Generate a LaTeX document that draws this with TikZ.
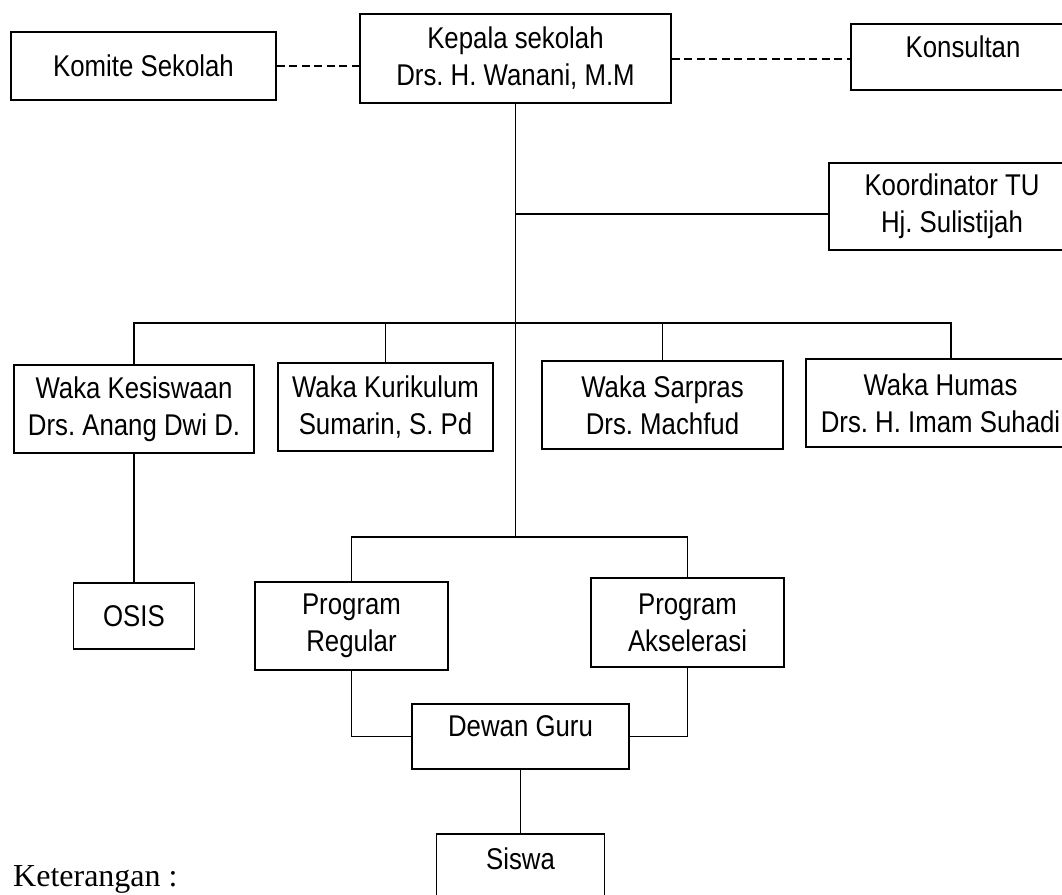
\documentclass[tikz,border=0pt]{standalone}
\usepackage{fontspec}
\setmainfont{Liberation Sans}[FakeStretch=0.86]
\newfontfamily\kserif{Liberation Serif}
\frenchspacing
\begin{document}
\begin{tikzpicture}[x=1pt,y=-1pt,
  orgbox/.style={draw, line width=1.8pt, inner sep=0pt, align=center,
    font=\fontsize{30}{37}\selectfont},
  conn/.style={line width=1.8pt},
  dashconn/.style={line width=1.8pt, dash pattern=on 8pt off 4.5pt}]
\useasboundingbox (0,0) rectangle (1062,894);
\clip (0,0) rectangle (1062,894);
\fill[white] (0,0) rectangle (1062,894);
% boxes
\node[orgbox, minimum width=265pt, minimum height=68pt] (komite) at (143.5,66) {Komite Sekolah};
\node[orgbox, minimum width=311pt, minimum height=89pt] (kepala) at (515.5,58.5) {Kepala sekolah\\Drs. H. Wanani, M.M};
\node[orgbox, minimum width=224pt, minimum height=66pt] (konsultan) at (963,57) {\raisebox{10pt}[\height][\depth]{Konsultan}};
\node[orgbox, minimum width=246pt, minimum height=87pt] (koord) at (952,206.5) {Koordinator TU\\Hj. Sulistijah};
\node[orgbox, minimum width=240pt, minimum height=88pt] (kes) at (134,409) {Waka Kesiswaan\\Drs. Anang Dwi D.};
\node[orgbox, minimum width=215pt, minimum height=88pt] (kur) at (385.5,407) {Waka Kurikulum\\Sumarin, S. Pd};
\node[orgbox, minimum width=241pt, minimum height=88pt] (sar) at (662.5,405) {Waka Sarpras\\Drs. Machfud};
\node[orgbox, minimum width=269pt, minimum height=88pt] (humas) at (940.5,403) {Waka Humas\\Drs. H. Imam Suhadi};
\node[orgbox, minimum width=121pt, minimum height=66pt] (osis) at (134,616) {OSIS};
\node[orgbox, minimum width=193pt, minimum height=88pt] (reg) at (351.5,626) {Program\\Regular};
\node[orgbox, minimum width=193pt, minimum height=89pt] (aks) at (687.5,622.5) {Program\\Akselerasi};
\node[orgbox, minimum width=217pt, minimum height=65pt] (dewan) at (520.5,736.5) {\raisebox{10pt}[\height][\depth]{Dewan Guru}};
\node[orgbox, minimum width=168pt, minimum height=76pt] (siswa) at (520.5,872) {\raisebox{13pt}[\height][\depth]{Siswa}};
\node[anchor=base west, inner sep=0pt, font=\kserif\fontsize{32}{38}\selectfont] (ket) at (13,886) {Keterangan :};
% junctions
\coordinate (jtu) at (kepala.south |- 0,214);
\coordinate (jw) at (kepala.south |- 0,323);
\coordinate (jp) at (kepala.south |- 0,537);
% connectors
\draw[dashconn] (komite.east) -- (komite.east -| kepala.west);
\draw[dashconn] ([yshift=-2pt]konsultan.west -| kepala.east) -- ([yshift=-2pt]konsultan.west);
\draw[conn] (kepala.south) -- (jp);
\draw[conn] (jtu) -- (jtu -| koord.west);
\draw[conn] (kes.north) |- (jw) -| ([xshift=10.5pt]humas.north);
\draw[conn] (kur.north) -- (kur.north |- jw);
\draw[conn] (sar.north) -- (sar.north |- jw);
\draw[conn] (kes.south) -- (osis.north);
\draw[conn] (reg.north) |- (jp) -| (aks.north);
\draw[conn] (reg.south) |- (dewan.west);
\draw[conn] (aks.south) |- (dewan.east);
\draw[conn] (dewan.south) -- (siswa.north);
\end{tikzpicture}
\end{document}
